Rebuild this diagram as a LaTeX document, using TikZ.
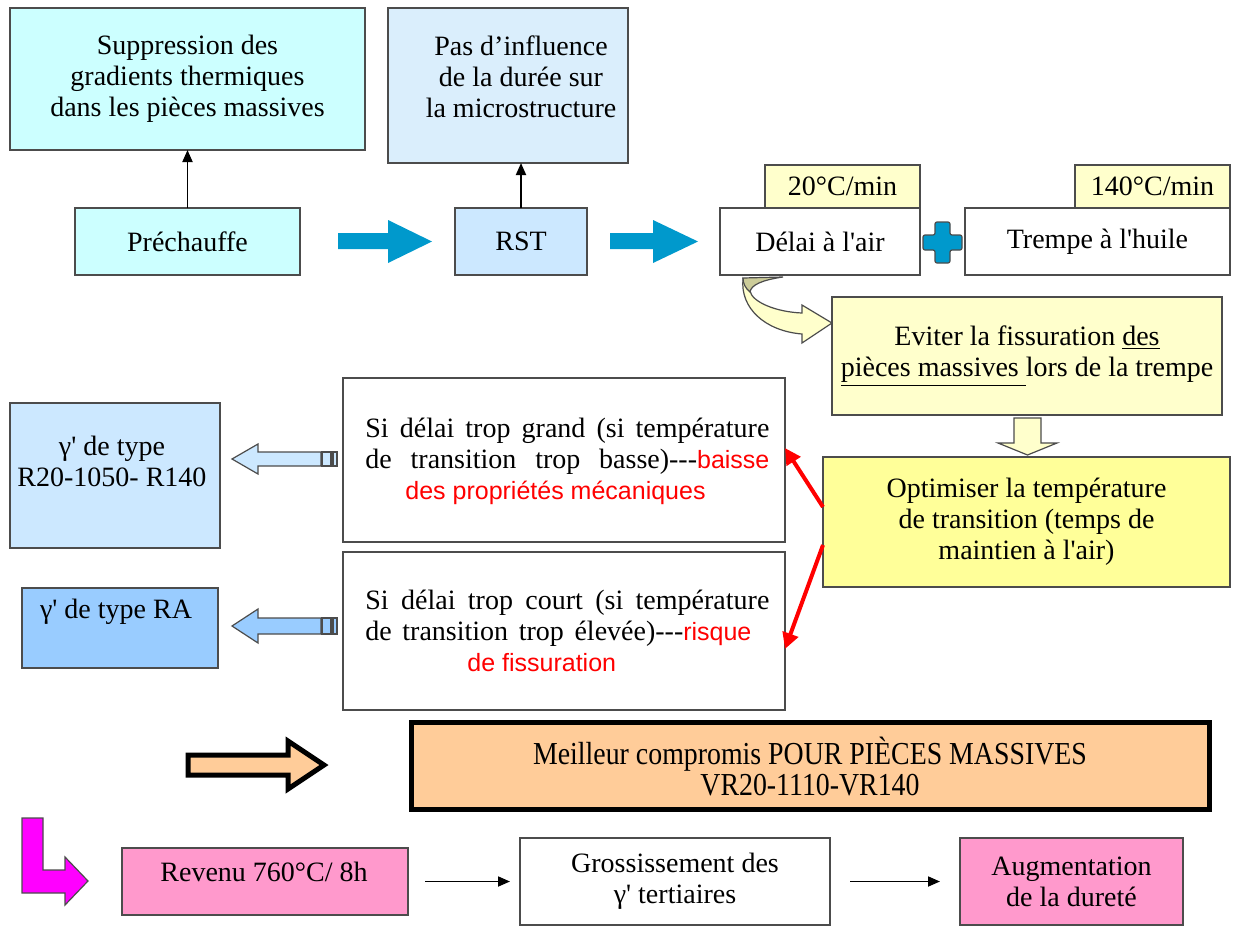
\documentclass[tikz,border=0pt]{standalone}
\usepackage{fontspec}
\usepackage{graphicx}
\setmainfont{Liberation Serif}
\newfontfamily\redsans{Liberation Sans}
\usetikzlibrary{arrows.meta}

\definecolor{cyanlight}{HTML}{CCFFFF}
\definecolor{paleblue}{HTML}{DAEEFC}
\definecolor{rstblue}{HTML}{CCE8FF}
\definecolor{gamblue}{HTML}{99CCFF}
\definecolor{paleyellow}{HTML}{FFFFCC}
\definecolor{midyellow}{HTML}{FFFF99}
\definecolor{khaki}{HTML}{CCCC99}
\definecolor{peach}{HTML}{FFCC99}
\definecolor{pink}{HTML}{FF99CC}
\definecolor{lmagenta}{HTML}{FF00FF}
\definecolor{arrowblue}{HTML}{0099CC}

\newcommand\sq{\textquotesingle}
\newcommand\redtxt[1]{\textcolor{red}{\redsans\fontsize{12.5}{15.5}\selectfont #1}}

\tikzset{
  box/.style={draw=black!70, line width=0.8pt, inner sep=0pt, outer sep=0pt,
    align=center, font=\fontsize{14}{15.5}\selectfont},
  txt/.style={inner sep=0pt, align=center, font=\fontsize{14}{15.5}\selectfont},
  linkarrow/.style={draw=black, line width=0.9pt, -{Triangle[length=6pt,width=5pt]}},
  redarrow/.style={draw=red, line width=2pt, -{Triangle[length=8pt,width=8pt]}},
  hollow/.style={draw=black!70, line width=0.6pt, line join=miter},
}

\begin{document}
\begin{tikzpicture}[x=0.5pt, y=-0.5pt]
\useasboundingbox (0,0) rectangle (1233,927);

% top row
\node[box, fill=cyanlight, minimum width=177.5pt, minimum height=71pt] (supp) at (187.5,79)
  {Suppression des\\gradients thermiques\\dans les pièces massives};
\node[box, fill=paleblue, minimum width=120pt, minimum height=77.5pt] (infl) at (508,85.5) {};
\node[txt] (infltxt) at (521,77) {Pas d’influence\\de la durée sur\\la microstructure};

\node[box, fill=cyanlight, minimum width=112.5pt, minimum height=33.5pt] (prech) at (187.5,241.5) {Préchauffe};
\node[box, fill=rstblue, minimum width=66pt, minimum height=33.5pt] (rst) at (521,241.5) {RST};
\node[box, minimum width=100pt, minimum height=33.5pt] (delai) at (820,241.5) {Délai à l\sq air};
\node[box, fill=paleyellow, minimum width=77.5pt, minimum height=21.5pt] (v20) at (842.5,186.5) {20°C/min};
\node[box, minimum width=132.5pt, minimum height=33.5pt] (trempe) at (1097.5,241.5) {Trempe à l\sq huile};
\node[box, fill=paleyellow, minimum width=77.5pt, minimum height=21.5pt] (v140) at (1152.5,186.5) {140°C/min};

\draw[linkarrow] (prech.north) -- (prech.north |- supp.south);
\draw[linkarrow] (rst.north) -- (rst.north |- infl.south);

% blue block arrows and plus
\fill[arrowblue] (338,233) -- (388,233) -- (388,220) -- (432,241.5) -- (388,263) -- (388,249) -- (338,249) -- cycle;
\fill[arrowblue] (610,233) -- (653,233) -- (653,220) -- (698,241.5) -- (653,263) -- (653,249) -- (610,249) -- cycle;
\filldraw[fill=arrowblue, draw=black!70, line width=0.6pt, rounded corners=1pt]
  (935,222) -- (950,222) -- (950,235) -- (962,235) -- (962,250) -- (950,250) -- (950,263)
  -- (935,263) -- (935,250) -- (923,250) -- (923,235) -- (935,235) -- cycle;

% curved arrow under the delay box
\filldraw[fill=paleyellow, hollow]
  (743,279) .. controls (740,308) and (765,331) .. (802,334) -- (802,343) -- (832,323)
  -- (802,305) -- (802,313) .. controls (776,312) and (752,302) .. (750,291) -- cycle;
\filldraw[fill=khaki, hollow]
  (743,278) -- (783,277) .. controls (762,280) and (751,285) .. (750,292)
  .. controls (745,288) and (743,283) .. (743,278);

% right column
\node[box, fill=paleyellow, minimum width=195pt, minimum height=59pt] (eviter) at (1027,356)
  {Eviter la fissuration \underline{des}\\\underline{pièces massives\ }lors de la trempe};
\filldraw[fill=paleyellow, hollow]
  (1014,418) -- (1041,418) -- (1041,443) -- (1057,443) -- (1027.5,455) -- (998,443) -- (1014,443) -- cycle;
\node[box, fill=midyellow, minimum width=203.5pt, minimum height=65pt] (optim) at (1026.5,522)
  {Optimiser la température\\de transition (temps de\\maintien à l\sq air)};

% middle boxes
\node[box, minimum width=221pt, minimum height=82pt] (grand) at (564,460) {};
\node[txt, anchor=west, align=left] (grandtxt) at (365,461)
  {\makebox[202pt][s]{Si délai trop grand (si température}\\
   \makebox[202pt][s]{de transition trop basse)-{}-{}-\redtxt{baisse}}\\
   \hspace*{20pt}\redtxt{des propriétés mécaniques}};
\node[box, minimum width=221pt, minimum height=79pt] (court) at (564,631) {};
\node[txt, anchor=west, align=left] (courttxt) at (365,631)
  {\makebox[202pt][s]{Si délai trop court (si température}\\
   \makebox[193pt][s]{de transition trop élevée)-{}-{}-\redtxt{risque}}\\
   \hspace*{51pt}\redtxt{de fissuration}};

\draw[redarrow] ([yshift=7.5pt]optim.west) -- ([yshift=6pt]grand.east);
\draw[redarrow] ([yshift=-11.5pt]optim.west) -- ([yshift=-9pt]court.east);

% left column
\node[box, fill=rstblue, minimum width=105pt, minimum height=72.5pt] (gam1) at (115,475.5) {};
\node[txt] (gam1txt) at (112,461) {γ\sq\ de type\\R20-1050- R140};
\node[box, fill=gamblue, minimum width=98pt, minimum height=40pt] (gam2) at (120,628) {};
\node[txt] (gam2txt) at (116,612) {γ\sq\ de type RA};

\filldraw[fill=rstblue, hollow] (232,459) -- (258,444) -- (258,452) -- (321,452) -- (321,466) -- (258,466) -- (258,474) -- cycle;
\filldraw[fill=rstblue, hollow] (322,452) rectangle (331,466) (333,452) rectangle (337,466);
\filldraw[fill=gamblue, hollow] (232,626) -- (258,609) -- (258,618) -- (321,618) -- (321,634) -- (258,634) -- (258,643) -- cycle;
\filldraw[fill=gamblue, hollow] (322,618) rectangle (331,634) (333,618) rectangle (337,634);

% compromise
\filldraw[fill=peach, draw=black, line width=2.5pt, line join=miter]
  (188,755) -- (288,755) -- (288,741) -- (324,765) -- (288,789) -- (288,775) -- (188,775) -- cycle;
\node[box, fill=peach, draw=black, line width=2.5pt, minimum width=399pt, minimum height=43.5pt] (best) at (810,766)
  {\scalebox{0.87}[1]{\fontsize{16}{15}\selectfont Meilleur compromis POUR PIÈCES MASSIVES}\\
   \scalebox{0.87}[1]{\fontsize{16}{15}\selectfont VR20-1110-VR140}};

% bottom row
\filldraw[fill=lmagenta, draw=black!70, line width=0.6pt, line join=miter]
  (22,818) -- (43,818) -- (43,870) -- (65,870) -- (65,857) -- (88,881) -- (65,905) -- (65,893) -- (22,893) -- cycle;
\node[box, fill=pink, minimum width=143pt, minimum height=33.5pt] (rev) at (265,881.5) {};
\node[txt] (revtxt) at (264,872) {Revenu 760°C/ 8h};
\node[box, minimum width=155pt, minimum height=43.5pt] (gross) at (675,881.5)
  {Grossissement des\\γ\sq\ tertiaires};
\node[box, fill=pink, minimum width=111.5pt, minimum height=43.5pt] (aug) at (1071.5,881.5)
  {Augmentation\\de la dureté};

\draw[linkarrow, shorten <=8.5pt, shorten >=5pt] (rev) -- (gross);
\draw[linkarrow, shorten <=10pt, shorten >=10pt] (gross) -- (aug);
\end{tikzpicture}
\end{document}
